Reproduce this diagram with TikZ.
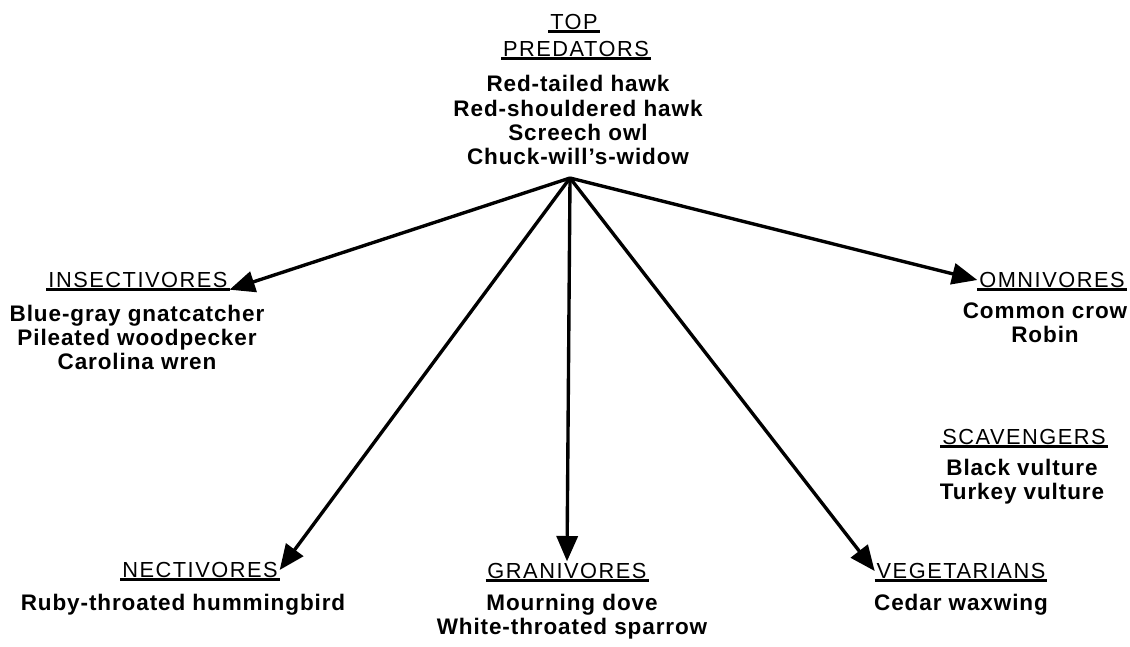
\documentclass[tikz,border=0pt]{standalone}
\usepackage{fontspec}
\setmainfont{Liberation Sans}
\usetikzlibrary{arrows.meta,positioning}

\begin{document}
\begin{tikzpicture}[
  x=0.025cm, y=-0.025cm,
  grouphead/.style={inner sep=1.2pt, font=\fontsize{15.5}{18}\selectfont\addfontfeature{LetterSpace=7},
    append after command={(\tikzlastnode.south west) edge[line width=2pt] (\tikzlastnode.south east)}},
  birdlist/.style={align=center, inner sep=0pt, font=\bfseries\fontsize{16}{17.1}\selectfont\addfontfeature{LetterSpace=4}},
  feeds/.style={draw, line width=2.4pt, -{Triangle[length=18pt, width=15pt]}}
]
  \useasboundingbox (0,0) rectangle (1130,646);

  % Top predators
  \node[grouphead] (top) at (574, 22) {TOP};
  \node[grouphead] (pred) at (576, 49) {PREDATORS};
  \node[birdlist] (predlist) at (578, 120) {Red-tailed hawk\\Red-shouldered hawk\\Screech owl\\Chuck-will's-widow};
  \coordinate (hub) at (570, 178);

  % Feeding groups
  \node[grouphead] (insect) at (138, 280) {INSECTIVORES};
  \node[birdlist] (insectlist) at (137, 337) {Blue-gray gnatcatcher\\Pileated woodpecker\\Carolina wren};

  \node[grouphead] (omni) at (1052, 280) {OMNIVORES};
  \node[birdlist] (omnilist) at (1045, 323) {Common crow\\Robin};

  \node[grouphead] (scav) at (1024, 437) {SCAVENGERS};
  \node[birdlist] (scavlist) at (1022, 482) {Black vulture\\Turkey vulture};

  \node[grouphead] (necti) at (200, 570) {NECTIVORES};
  \node[birdlist] (nectilist) at (183, 605) {Ruby-throated hummingbird};

  \node[grouphead] (grani) at (567, 571) {GRANIVORES};
  \node[birdlist] (granilist) at (572, 617) {Mourning dove\\White-throated sparrow};

  \node[grouphead] (vege) at (961, 571) {VEGETARIANS};
  \node[birdlist] (vegelist) at (961, 605) {Cedar waxwing};

  % Arrows from the predators
  \draw[feeds] (hub) -- (insect.south east);
  \draw[feeds] (hub) -- (omni.west);
  \draw[feeds] (hub) -- (necti.east);
  \draw[feeds] (hub) -- (grani.north);
  \draw[feeds] (hub) -- (vege.west);

\end{tikzpicture}
\end{document}
